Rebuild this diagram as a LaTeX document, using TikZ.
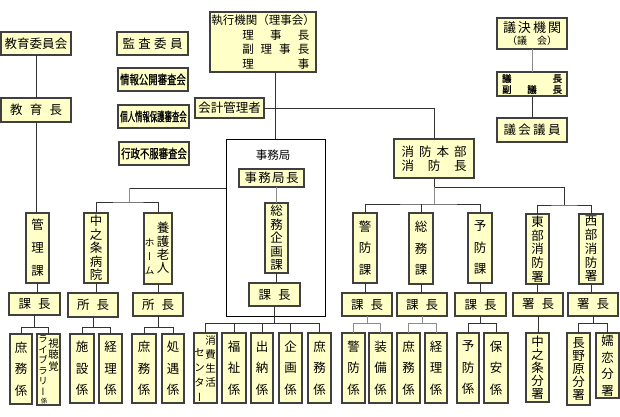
\documentclass[tikz,border=0pt]{standalone}
\usepackage{graphicx}
\usepackage{fontspec}
\setmainfont{Noto Sans CJK JP}
\newfontfamily\vfont[RawFeature=+vert]{Noto Sans CJK JP}
\newfontfamily\bfont[FakeBold=1]{Noto Sans CJK JP}
\usetikzlibrary{calc}
\definecolor{bf}{HTML}{FFFFC8}
\definecolor{bd}{HTML}{404040}
\newcommand\obox[7][]{\node[box,#1,minimum width={#5pt-#3pt},minimum height={#6pt-#4pt}] (#2) at ({(#3+#5)/2},{(#4+#6)/2}) {#7};}
\newcommand\spr[2]{\makebox[#1pt]{#2}}
\begin{document}
\begin{tikzpicture}[x=1pt,y=-1pt,
  box/.style={draw=bd,fill=bf,line width=1.3pt,inner sep=0pt,outer sep=0pt,align=center,font=\fontsize{12.5}{14}\selectfont},
  vthree/.style={font=\vfont\fontsize{12.5}{21.5}\selectfont},
  vfive/.style={font=\vfont\fontsize{12.5}{13.5}\selectfont},
  ln/.style={draw=black!80,line width=0.8pt},
  gl/.style={draw=black!45,line width=0.8pt},
  lbl/.style={inner sep=0pt,align=center}]
\fill[white] (0,0) rectangle (620,416);
\useasboundingbox (0,0) rectangle (620,416);

% office frame
\node[draw=black,line width=0.8pt,minimum width=99pt,minimum height=177pt,inner sep=0pt] (frame) at (275.5,227.5) {};
\node[lbl,font=\fontsize{11.5}{13}\selectfont] (jlabel) at (273,155) {事務局};

% top row
\obox{iinkai}{1}{32}{71}{55}{教育委員会}
\obox{kyoikucho}{1}{98}{71}{122}{\spr{52}{教\hfill 育\hfill 長}}
\obox{kansa}{117}{32}{188}{55}{\spr{60}{監\hfill 査\hfill 委\hfill 員}}
\obox{joho}{118}{68}{188}{91}{\bfont\scalebox{0.75}[1]{情報公開審査会}}
\obox{kojin}{118}{105}{189}{128}{\bfont\scalebox{0.59}[1]{個人情報保護審査会}}
\obox{gyosei}{119}{142}{189}{165}{\bfont\scalebox{0.75}[1]{行政不服審査会}}
\obox[font=\fontsize{11.5}{14.5}\selectfont,align=left]{shikko}{210}{12}{316}{72}{執行機関（理事会）\\\hspace*{31pt}\spr{67}{理\hfill 事\hfill 長}\\\hspace*{31pt}\spr{67}{副\hfill 理\hfill 事\hfill 長}\\\hspace*{31pt}\spr{67}{理\hfill 事}}
\obox{kaikei}{195}{98}{264}{118}{会計管理者}
\obox[font=\fontsize{13}{12}\selectfont]{giketsu}{497}{18}{567}{49}{\spr{58}{議\hfill 決\hfill 機\hfill 関}\\{\fontsize{10}{11}\selectfont （議　会）}}
\obox[font=\bfont\fontsize{9.5}{11}\selectfont]{gicho}{497}{72}{567}{96}{\spr{60}{議\hfill 長}\\\spr{60}{副\hfill 議\hfill 長}}
\obox{giin}{497}{118}{567}{142}{\spr{57}{議\hfill 会\hfill 議\hfill 員}}
\obox{shobo}{394}{139}{474}{178}{\spr{65}{消\hfill 防\hfill 本\hfill 部}\\\spr{65}{消\hfill 防\hfill 長}}

% office inner
\obox{jimukyokucho}{239}{169}{304}{187}{\spr{54}{事\hfill 務\hfill 局\hfill 長}}
\obox[vfive]{somukikaku}{265}{203}{288}{273}{総\\務\\企\\画\\課}
\obox{kachom}{249}{283}{300}{306}{\spr{32}{課\hfill 長}}

% row 2
\obox[vthree]{kanri}{26}{213}{49}{283}{管\\[1.5pt]理\\[1.5pt]課}
\obox[vfive]{byoin}{84}{213}{108}{283}{中\\之\\条\\病\\院}
\obox{yogo}{144}{213}{172}{284}{}
\node[lbl,font=\vfont\fontsize{12.5}{13.3}\selectfont] (yogo1) at (163,248) {養\\護\\老\\人};
\node[lbl,font=\vfont\fontsize{10}{14}\selectfont] (yogo2) at (149.5,256.5) {ホ\\ー\\ム};
\obox[vthree]{keibo}{353}{213}{377}{283}{警\\防\\課}
\obox[vthree]{somu}{409}{213}{433}{284}{総\\務\\課}
\obox[vthree]{yobo}{468}{213}{492}{283}{予\\防\\課}
\obox[font=\vfont\fontsize{12.5}{13.75}\selectfont]{tobu}{526}{214}{549}{284}{東\\部\\消\\防\\署}
\obox[font=\vfont\fontsize{12.5}{13.75}\selectfont]{seibu}{579}{214}{603}{284}{西\\部\\消\\防\\署}

% row 3
\obox{k1}{9}{293}{60}{315}{\spr{32}{課\hfill 長}}
\obox{s1}{68}{293}{118}{317}{\spr{32}{所\hfill 長}}
\obox{s2}{133}{293}{183}{316}{\spr{32}{所\hfill 長}}
\obox{k2}{342}{293}{392}{316}{\spr{32}{課\hfill 長}}
\obox{k3}{397}{293}{447}{316}{\spr{32}{課\hfill 長}}
\obox{k4}{455}{293}{506}{316}{\spr{32}{課\hfill 長}}
\obox{sh1}{513}{293}{563}{316}{\spr{32}{署\hfill 長}}
\obox{sh2}{568}{293}{618}{316}{\spr{32}{署\hfill 長}}

% row 4
\obox[vthree]{a1}{10}{334}{32}{404}{庶\\務\\係}
\obox{a2}{37}{334}{60}{405}{}
\node[lbl,font=\bfont\vfont\fontsize{10.5}{11.5}\selectfont] (a2t1) at (53.5,355) {視\\聴\\覚};
\node[lbl,font=\vfont\fontsize{9.5}{10.6}\selectfont] (a2t2) at (43,365.5) {ラ\\イ\\ブ\\ラ\\リ\\ー};
\node[lbl,font=\fontsize{6.5}{7}\selectfont] (a2t3) at (44,401.5) {係};
\obox[vthree]{a3}{70}{334}{94}{403}{施\\設\\係}
\obox[vthree]{a4}{99}{334}{122}{403}{経\\理\\係}
\obox[vthree]{a5}{132}{334}{156}{403}{庶\\務\\係}
\obox[vthree]{a6}{162}{334}{184}{403}{処\\遇\\係}
\obox{b1}{194}{333}{217}{403}{}
\node[lbl,font=\vfont\fontsize{10.5}{14.3}\selectfont] (b1t1) at (210.5,361.5) {消\\費\\生\\活};
\node[lbl,font=\vfont\fontsize{10.5}{15}\selectfont] (b1t2) at (199.5,375) {セ\\ン\\タ\\ー};
\obox[vthree]{b2}{222}{333}{246}{403}{福\\祉\\係}
\obox[vthree]{b3}{251}{333}{273}{403}{出\\納\\係}
\obox[vthree]{b4}{279}{333}{302}{403}{企\\画\\係}
\obox[vthree]{b5}{308}{333}{331}{403}{庶\\務\\係}
\obox[vthree]{c1}{342}{333}{365}{403}{警\\防\\係}
\obox[vthree]{c2}{369}{333}{392}{403}{装\\備\\係}
\obox[vthree]{c3}{397}{333}{420}{403}{庶\\務\\係}
\obox[vthree]{c4}{425}{333}{447}{403}{経\\理\\係}
\obox[vthree]{c5}{457}{333}{479}{403}{予\\防\\係}
\obox[vthree]{c6}{484}{333}{508}{403}{保\\安\\係}
\obox[font=\vfont\fontsize{12.5}{13}\selectfont]{d1}{526}{333}{549}{402}{中\\之\\条\\分\\署}
\obox[font=\vfont\fontsize{12.5}{13.2}\selectfont]{d2}{567}{333}{590}{405}{長\\野\\原\\分\\署}
\obox[font=\vfont\fontsize{12.5}{16.5}\selectfont]{d3}{596}{333}{619}{398}{嬬\\恋\\分\\署}

% connectors: top
\draw[ln] (iinkai) -- (kyoikucho);
\draw[ln] (kyoikucho.south) -- (kyoikucho.south |- kanri.north);
\draw[ln] (frame.north |- shikko.south) -- (frame.north);
\draw[ln] (kaikei.east) -| (shobo.north);
\draw[gl] (giketsu) -- (gicho);
\draw[ln] (gicho) -- (giin);

% connectors: office
\coordinate (j1) at (226,188);
\coordinate (j2) at (129,188);
\coordinate (j3) at (129,202);
\draw[ln] (j1) -- (j2);
\draw[gl] (j2) -- (j3);
\draw[ln] (byoin.north) |- (j3) -| (yogo.north);
\draw[gl] (somukikaku.north |- jimukyokucho.south) -- (somukikaku.north);
\draw[ln] (somukikaku.south) -- (somukikaku.south |- kachom.north);

% connectors: fire dept
\draw[ln] (shobo.south) -- ++(0,9) coordinate (f1);
\coordinate (f2) at ($(tobu.north)!0.5!(seibu.north)+(0,-9)$);
\draw[ln] (f1) -| (f2);
\draw[ln] (tobu.north) |- (f2) -| (seibu.north);
\draw[gl] (f1) -- ++(0,17) coordinate (f3);
\draw[ln] (keibo.north) |- (f3) -| (yobo.north);
\draw[ln] (somu.north) -- (somu.north |- f3);

% row 2 -> row 3
\draw[ln] (kanri.south) -- (kanri.south |- k1.north);
\draw[ln] (byoin.south) -- (byoin.south |- s1.north);
\draw[ln] (yogo.south) -- (yogo.south |- s2.north);
\draw[ln] (keibo.south) -- (keibo.south |- k2.north);
\draw[ln] (somu.south) -- (somu.south |- k3.north);
\draw[ln] (yobo.south) -- (yobo.south |- k4.north);
\draw[ln] (tobu.south) -- (tobu.south |- sh1.north);
\draw[ln] (seibu.south) -- (seibu.south |- sh2.north);

% row 3 -> row 4
\draw[ln] (k1.south) -- ++(0,12) coordinate (k1b);
\draw[ln] (a1.north) |- (k1b) -| (a2.north);
\draw[ln] (s1.south) -- ++(0,10) coordinate (s1b);
\draw[ln] (a3.north) |- (s1b) -| (a4.north);
\draw[ln] (s2.south) -- ++(0,11) coordinate (s2b);
\draw[ln] (a5.north) |- (s2b) -| (a6.north);
\draw[ln] (kachom.south) -- ++(0,17) coordinate (mb);
\draw[ln] (b1.north) |- (mb) -| (b5.north);
\draw[ln] (b2.north) -- (b2.north |- mb);
\draw[ln] (b3.north) -- (b3.north |- mb);
\draw[ln] (b4.north) -- (b4.north |- mb);
\draw[gl] (k2.south) -- ++(0,7) coordinate (k2b);
\draw[gl] (c1.north) |- (k2b) -| (c2.north);
\draw[gl] (k3.south) -- ++(0,7) coordinate (k3b);
\draw[gl] (c3.north) |- (k3b) -| (c4.north);
\draw[ln] (k4.south) -- ++(0,7) coordinate (k4b);
\draw[ln] (c5.north) |- (k4b) -| (c6.north);
\draw[ln] (sh1.south) -- (sh1.south |- d1.north);
\draw[ln] (sh2.south) -- ++(0,7) coordinate (sh2b);
\draw[ln] (d2.north) |- (sh2b) -| (d3.north);
\end{tikzpicture}
\end{document}
